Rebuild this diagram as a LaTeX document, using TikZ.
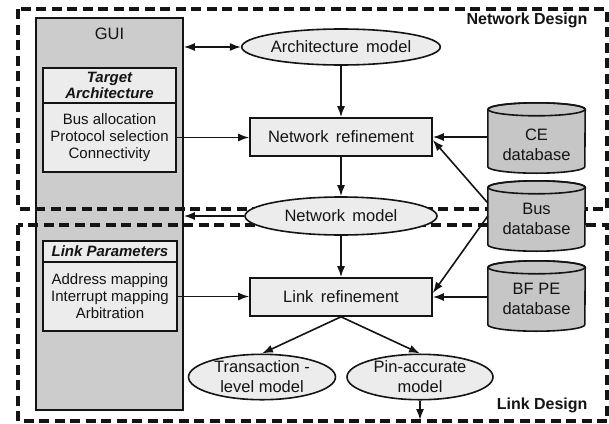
\documentclass[tikz,border=0pt]{standalone}
\usepackage{fontspec}
\setmainfont{Liberation Sans}
\usetikzlibrary{arrows.meta,calc,shapes.geometric}
\definecolor{guigray}{RGB}{204,204,204}
\definecolor{drumgray}{RGB}{198,198,198}
\definecolor{lightfill}{RGB}{236,236,236}
\definecolor{ink}{RGB}{20,20,20}
\newcommand\wgap{\hspace{0.45em}}
% database drum drawn around a named (invisible) node
\newcommand\drawdrum[1]{%
  \filldraw[draw=ink,line width=1.6pt,fill=drumgray]
    ($(#1.north west)+(0,6.5)$) -- ($(#1.south west)+(0,-6.5)$)
    arc[start angle=180,end angle=360,x radius=48.5pt,y radius=6.5pt]
    -- ($(#1.north east)+(0,6.5)$)
    arc[start angle=0,end angle=180,x radius=48.5pt,y radius=6.5pt] -- cycle;
  \draw[draw=ink,line width=1.6pt] ($(#1.north)+(0,6.5)$) ellipse [x radius=48.5pt,y radius=6.5pt];
}
\begin{document}
\begin{tikzpicture}[x=1pt,y=-1pt,
  font=\fontsize{16.5}{20}\selectfont, text=ink,
  conn/.style={draw=ink,line width=1.6pt,-{Latex[length=11pt,width=8pt]}},
  both/.style={draw=ink,line width=1.6pt,{Latex[length=11pt,width=8pt]}-{Latex[length=11pt,width=8pt]}},
  zone/.style={draw=ink,line width=3.4pt,dash pattern=on 10pt off 5.5pt},
  model/.style={ellipse,draw=ink,line width=1.6pt,fill=lightfill,inner sep=0pt,align=center},
  stage/.style={rectangle,draw=ink,line width=1.6pt,fill=lightfill,minimum width=182pt,minimum height=38pt,inner sep=0pt},
  panelhead/.style={rectangle,draw=ink,line width=1.6pt,fill=lightfill,inner sep=0pt,align=center,
    font=\fontsize{15}{16}\selectfont\bfseries\itshape},
  panelbody/.style={rectangle,draw=ink,line width=1.6pt,fill=lightfill,inner sep=0pt,align=center,
    font=\fontsize{15}{17}\selectfont},
  drumbox/.style={minimum width=97pt,minimum height=70pt,inner sep=0pt},
  drumtext/.style={align=center,font=\fontsize{16.5}{20}\selectfont},
  zonetitle/.style={font=\fontsize{16}{19}\selectfont\bfseries,anchor=east}
]
\useasboundingbox (0,0) rectangle (609,423);

% GUI column
\node[draw=ink,line width=1.6pt,fill=guigray,minimum width=147pt,minimum height=392pt,inner sep=0pt] (gui) at (109.5,214) {};
\node (guititle) at (109.5,34) {GUI};

% design zones
\draw[zone] (18,9) rectangle (607,209);
\draw[zone] (18,225) rectangle (607,421);
\node[zonetitle] (ndtitle) at (591,20) {Network Design};
\node[zonetitle] (ldtitle) at (591,405) {Link Design};

% parameter panels inside the GUI
\node[panelhead,minimum width=133pt,minimum height=35pt] (tahead) at (109.5,85.5) {Target\\Architecture};
\node[panelbody,minimum width=133pt,minimum height=69pt] (tabody) at (109.5,137.5) {Bus allocation\\Protocol selection\\Connectivity};
\node[panelhead,minimum width=134pt,minimum height=21pt] (lphead) at (110,251.5) {Link Parameters};
\node[panelbody,minimum width=134pt,minimum height=69pt] (lpbody) at (110,296.5) {Address mapping\\Interrupt mapping\\Arbitration};

% models and refinement steps
\node[model,minimum width=192pt,minimum height=36pt] (arch) at (341,47) {Architecture\wgap model};
\node[stage] (nref) at (341,137) {Network\wgap refinement};
\node[model,minimum width=192pt,minimum height=38pt] (nmod) at (341,216) {Network\wgap model};
\node[stage] (lref) at (341,297) {Link\wgap refinement};
\node[model,minimum width=147pt,minimum height=45pt] (tlm) at (262,377) {Transaction -\\level model};
\node[model,minimum width=146pt,minimum height=45pt] (pin) at (420,377) {Pin-accurate\\model};
\coordinate (sink) at (420,420);

% databases
\node[drumbox] (ce) at (536.5,138) {};
\node[drumbox] (bus) at (536.5,216) {};
\node[drumbox] (bf) at (536.5,296) {};
\drawdrum{ce}
\drawdrum{bus}
\drawdrum{bf}
\node[drumtext] (cetext) at (536.5,145) {CE\\database};
\node[drumtext] (bustext) at (536.5,219) {Bus\\database};
\node[drumtext] (bftext) at (536.5,299) {BF PE\\database};

% connectors
\draw[both] (arch.west -| gui.east) -- (arch.west);
\draw[conn] (arch.south) -- (nref.north);
\draw[conn] (tabody.east) -- (tabody.east -| nref.west);
\draw[conn] (ce.west |- nref.east) -- (nref.east);
\draw[conn] ($(bus.west)+(0,-13)$) -- ($(nref.east)+(0,3)$);
\draw[conn] (nref.south) -- (nmod.north);
\draw[conn] (nmod.west) -- (nmod.west -| gui.east);
\draw[conn] (nmod.south) -- (lref.north);
\draw[conn] (lpbody.east) -- (lpbody.east -| lref.west);
\draw[conn] (bus.west) -- ($(lref.east)+(0,-4)$);
\draw[conn] (bf.west |- lref.east) -- (lref.east);
\draw[conn] (lref.south) -- (tlm.north);
\draw[conn] (lref.south) -- (pin.north);
\draw[conn] (pin.south) -- (sink);
\end{tikzpicture}
\end{document}
